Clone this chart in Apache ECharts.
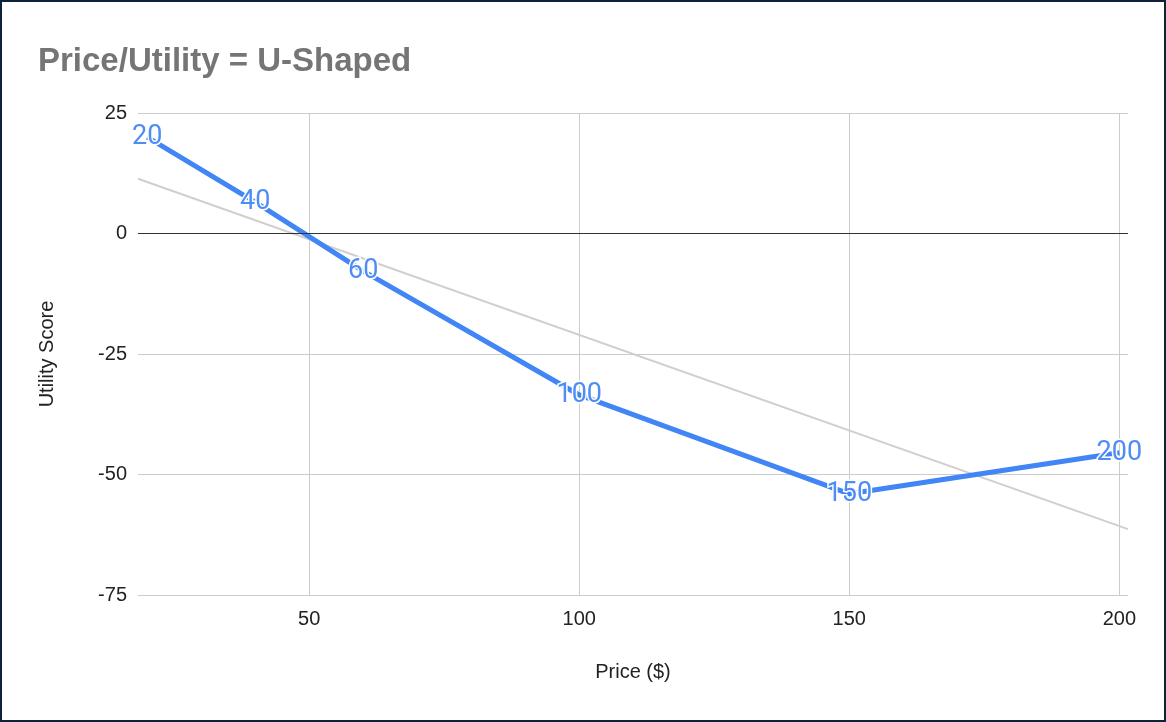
<!DOCTYPE html>
<html>
<head>
<meta charset="utf-8">
<script src="https://cdn.jsdelivr.net/npm/echarts@6/dist/echarts.min.js"></script>
<style>
  html, body { margin: 0; padding: 0; background: #fff; }
  #chart { width: 1166px; height: 722px; }
  #frame { position: absolute; left: 0; top: 0; width: 1166px; height: 722px; box-sizing: border-box; border: 2px solid #0d2236; pointer-events: none; }
</style>
</head>
<body>
<div id="chart"></div>
<div id="frame"></div>
<script>
const titleText = 'Price/Utility = U-Shaped';
const xName = 'Price ($)';
const yName = 'Utility Score';
const prices = [20, 40, 60, 100, 150, 200];
const utility = [20, 6.5, -7.8, -33.5, -54, -45.5];
const xTicks = [50, 100, 150, 200];
const yTicks = [-75, -50, -25, 0, 25];
const xMin = 18.3, xMax = 201.6;

// linear regression trendline computed from the data
const n = prices.length;
const mx = prices.reduce((a, b) => a + b, 0) / n;
const my = utility.reduce((a, b) => a + b, 0) / n;
let sxy = 0, sxx = 0;
for (let i = 0; i < n; i++) { sxy += (prices[i] - mx) * (utility[i] - my); sxx += (prices[i] - mx) ** 2; }
const slope = sxy / sxx, intercept = my - slope * mx;
const trend = [[xMin, intercept + slope * xMin], [xMax, intercept + slope * xMax]];

const font = 'Liberation Sans, Arial, sans-serif';
const chart = echarts.init(document.getElementById('chart'));
chart.setOption({
  animation: false,
  title: {
    text: titleText, left: 33, top: 40,
    textStyle: { fontFamily: font, fontSize: 33, fontWeight: 'bold', color: '#757575' }
  },
  grid: { left: 138, right: 38, top: 113, bottom: 127 },
  xAxis: {
    type: 'value', min: xMin, max: xMax,
    name: xName, nameLocation: 'middle', nameGap: 67,
    nameTextStyle: { fontFamily: font, fontSize: 20, color: '#222' },
    axisLine: { show: false },
    axisTick: { show: false, customValues: xTicks },
    axisLabel: { customValues: xTicks, fontFamily: font, fontSize: 20, color: '#222', margin: 14 },
    splitLine: { show: true, lineStyle: { color: '#cccccc', width: 1 } }
  },
  yAxis: {
    type: 'value', min: yTicks[0], max: yTicks[yTicks.length - 1], interval: 25,
    name: yName, nameLocation: 'middle', nameGap: 81,
    nameTextStyle: { fontFamily: font, fontSize: 20, color: '#222' },
    axisLine: { show: false }, axisTick: { show: false },
    axisLabel: { fontFamily: font, fontSize: 20, color: '#222', margin: 11 },
    splitLine: { lineStyle: { color: '#cccccc', width: 1 } }
  },
  series: [
    {
      type: 'line', data: trend, symbol: 'none', silent: true, z: 1,
      lineStyle: { color: '#cfcfcf', width: 2 },
      markLine: {
        silent: true, symbol: 'none', label: { show: false },
        lineStyle: { color: '#333', width: 1, type: 'solid' },
        data: [{ yAxis: 0 }]
      }
    },
    {
      type: 'line', z: 3,
      data: prices.map((p, i) => [p, utility[i]]),
      symbol: 'circle', symbolSize: 0.1, showSymbol: true,
      itemStyle: { color: '#4285f4' },
      lineStyle: { color: '#4285f4', width: 5 },
      label: {
        show: true, position: 'inside',
        formatter: (p) => String(p.value[0]),
        fontFamily: 'Roboto, sans-serif', fontSize: 27, color: '#4e8df5',
        textBorderColor: '#ffffff', textBorderWidth: 3
      }
    }
  ]
});
</script>
</body>
</html>
